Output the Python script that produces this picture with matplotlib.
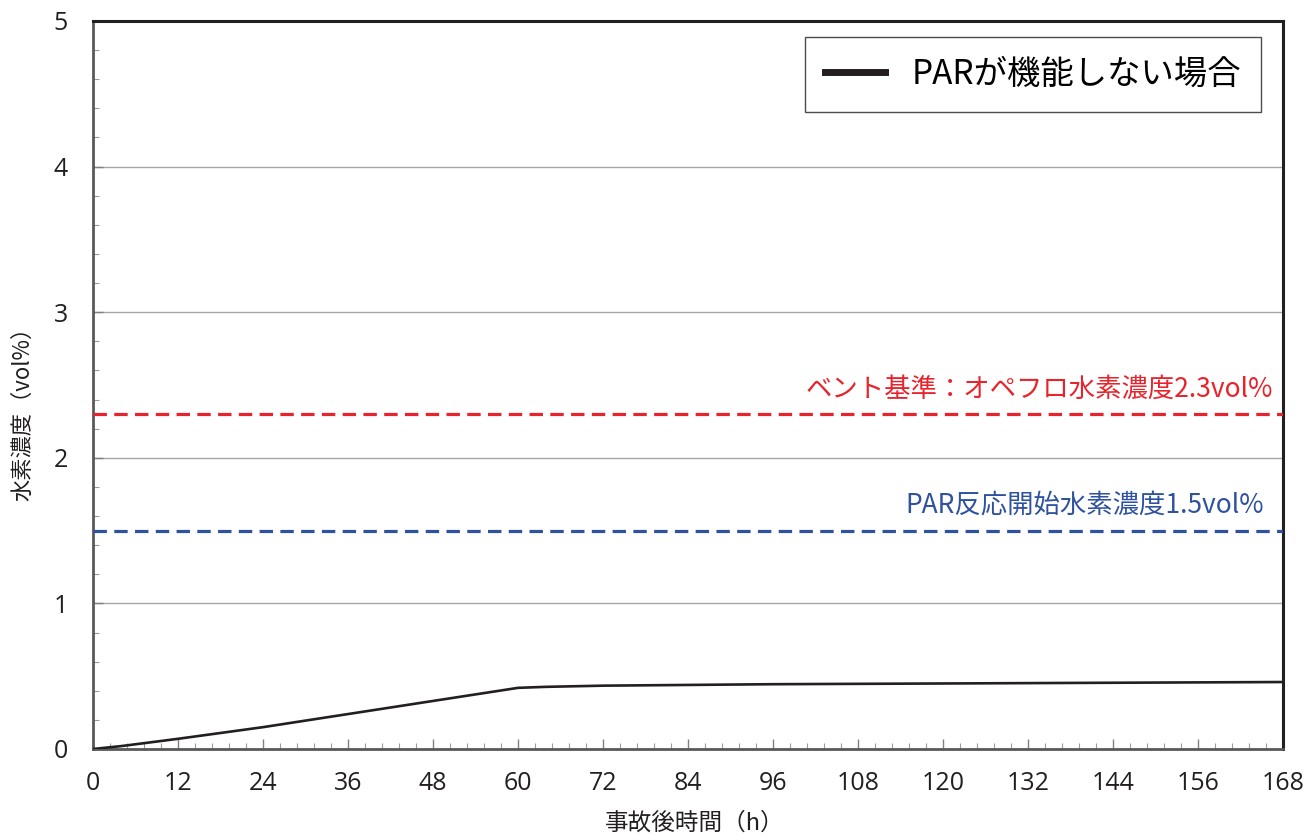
import matplotlib
matplotlib.use("Agg")
import matplotlib.pyplot as plt
from matplotlib.ticker import MultipleLocator, AutoMinorLocator

plt.rcParams["font.family"] = ["Noto Sans CJK JP", "DejaVu Sans"]

# data
hours = [0, 4, 8, 12, 24, 36, 48, 60, 64, 72, 84, 96, 120, 144, 168]
h2_no_par = [0.0, 0.02, 0.045, 0.07, 0.15, 0.24, 0.33, 0.42, 0.427, 0.435, 0.44, 0.445, 0.45, 0.455, 0.46]
vent_level = 2.3
par_start_level = 1.5

series_label = "PARが機能しない場合"
vent_label = "ベント基準：オペフロ水素濃度2.3vol%"
par_label = "PAR反応開始水素濃度1.5vol%"
x_label = "事故後時間（h）"
y_label = "水素濃度（vol%）"

fig = plt.figure(figsize=(13.05, 8.4), dpi=100)
ax = fig.add_axes([93 / 1305, 1 - 749 / 840, 1190 / 1305, 728 / 840])

ax.set_xlim(0, 168)
ax.set_ylim(0, 5)
ax.xaxis.set_major_locator(MultipleLocator(12))
ax.xaxis.set_minor_locator(AutoMinorLocator(5))
ax.yaxis.set_major_locator(MultipleLocator(1))
ax.yaxis.set_minor_locator(AutoMinorLocator(5))

ax.grid(axis="y", which="major", color="#a6a6a6", linewidth=1.0)
ax.set_axisbelow(True)

ax.axhline(vent_level, color="#e8232b", linewidth=2.3, dashes=(4.2, 2.3), zorder=3)
ax.axhline(par_start_level, color="#2f52a0", linewidth=2.3, dashes=(4.2, 2.3), zorder=3)
ax.plot(hours, h2_no_par, color="#231f20", linewidth=1.9, label=series_label, zorder=4)

ax.text(166.6, vent_level + 0.08, vent_label, color="#e8232b", fontsize=19,
        ha="right", va="bottom", family=["Noto Sans CJK JP", "DejaVu Sans"])
ax.text(165.3, par_start_level + 0.08, par_label, color="#2f52a0", fontsize=19,
        ha="right", va="bottom", family=["Noto Sans CJK JP", "DejaVu Sans"])

ax.tick_params(axis="both", which="major", direction="in", length=7, width=1,
               color="#808080", labelsize=18, labelcolor="#231f20")
ax.tick_params(axis="both", which="minor", direction="in", length=4, width=0.8, color="#9a9a9a")
ax.tick_params(axis="x", which="major", pad=16)
ax.tick_params(axis="y", which="major", pad=18)
for lab in ax.get_xticklabels() + ax.get_yticklabels():
    lab.set_family(["Open Sans", "DejaVu Sans"])

for side in ["left", "bottom"]:
    ax.spines[side].set_color("#595959")
    ax.spines[side].set_linewidth(2.0)
for side in ["top", "right"]:
    ax.spines[side].set_color("#231f20")
    ax.spines[side].set_linewidth(2.2)

ax.set_xlabel(x_label, fontsize=17, color="#231f20")
ax.xaxis.set_label_coords(0.506, -0.086)
ax.set_ylabel(y_label, fontsize=16, color="#231f20")
ax.yaxis.set_label_coords(-0.049, 0.468)

leg = ax.legend(loc="upper right", bbox_to_anchor=(0.9815, 0.978), fontsize=24,
                frameon=True, fancybox=False, edgecolor="#231f20", handlelength=1.8,
                handletextpad=0.8, borderpad=0.6, borderaxespad=0.0)
leg.get_frame().set_linewidth(1.0)
for line in leg.get_lines():
    line.set_linewidth(5)

fig.savefig("out.png", dpi=100)
